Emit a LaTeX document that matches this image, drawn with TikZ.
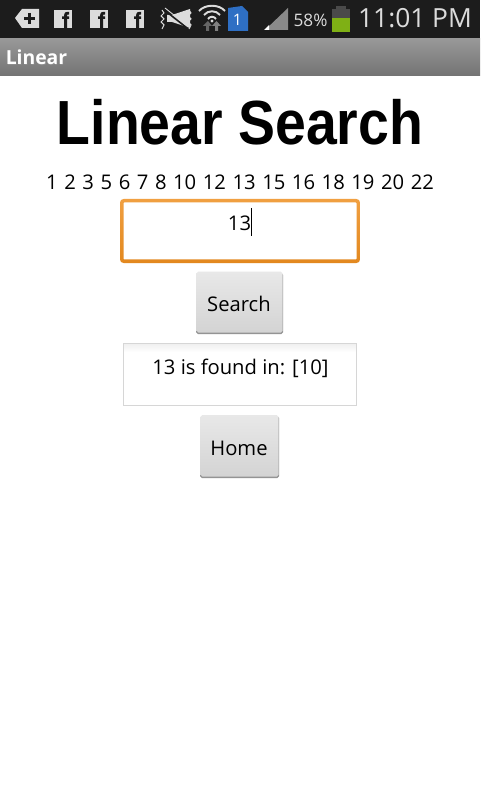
\documentclass[tikz,border=0pt]{standalone}
\usepackage{fontspec}
\setmainfont{Open Sans}
\newfontfamily\titlefont{Liberation Sans}
\usepackage{xcolor}
\usepackage{tikz}
\usetikzlibrary{positioning,calc,shadings}
\definecolor{barblack}{HTML}{1C1C1C}
\definecolor{iconwhite}{HTML}{DCDCDC}
\definecolor{simblue}{HTML}{2E6FC4}
\definecolor{battgreen}{HTML}{7FB015}
\definecolor{battgray}{HTML}{4A4A4A}
\definecolor{sigblue}{HTML}{8A8A8A}
\definecolor{focusorange}{HTML}{EE8F20}
\tikzset{
 btntext/.style={font=\fontsize{11.5}{14}\selectfont,text=black},
 numtext/.style={font=\fontsize{11.5}{14}\selectfont,text=black},
 fbox/.style={fill=iconwhite,draw=none},
}
\begin{document}
\begin{tikzpicture}[x=0.02cm,y=-0.02cm]
\useasboundingbox (0,0) rectangle (480,800);
\fill[white] (0,0) rectangle (480,800);
% status bar
\fill[barblack] (0,0) rectangle (480,38.500);
\shade[top color=black!40,bottom color=black!55] (0,38.500) rectangle (480,76);
% notification icons
\fill[iconwhite] (15,18) -- (22,9) -- (39,9) -- (39,28) -- (22,28) -- cycle;
\draw[barblack,line width=1.2pt] (24,18.5) -- (35,18.5) (29.5,13) -- (29.5,24);
\foreach \x in {54,90,126} {
 \fill[fbox] (\x,10) rectangle ++(18,18);
 \fill[barblack] (\x+10,28) -- (\x+10,19) -- (\x+8,19) -- (\x+8,16.5) -- (\x+10,16.5)
  .. controls (\x+10,12) and (\x+12,11.5) .. (\x+15,12) -- (\x+15,14.5)
  .. controls (\x+13,14) and (\x+13,15) .. (\x+13,16.5) -- (\x+15,16.5) -- (\x+15,19) -- (\x+13,19) -- (\x+13,28) -- cycle;
}
% muted volume
\fill[iconwhite] (167,15) -- (172,15) -- (190,9) -- (190,28) -- (172,22) -- (167,22) -- cycle;
\draw[iconwhite,line width=0.6pt] (162,10) -- (164,13) -- (161,16) -- (164,19) -- (161,22) -- (164,25) -- (162,29);
\draw[iconwhite,line width=0.6pt] (189,10) -- (191,13) -- (188,16) -- (191,19) -- (188,22) -- (191,25) -- (189,29);
\draw[barblack,line width=0.9pt] (163,9) -- (187,28);
\draw[iconwhite,line width=0.5pt] (165,8) -- (189,27);
% wifi
\draw[iconwhite,line width=1.1pt] (199,11) .. controls (205,4) and (219,4) .. (225,11);
\draw[iconwhite,line width=1.1pt] (204,15) .. controls (208,10) and (216,10) .. (220,15);
\draw[iconwhite,line width=1.1pt] (208,19) .. controls (210,16) and (214,16) .. (216,19);
\fill[iconwhite] (212,21) circle (1.7);
\fill[black!60] (206,31) -- (206,26) -- (203,26) -- (208,21) -- (212,26) -- (209,26) -- (209,31) -- cycle;
\fill[black!50] (215,31) -- (215,26) -- (212,26) -- (216.500,21) -- (221,26) -- (218,26) -- (218,31) -- cycle;
% sim card
\fill[simblue] (228,8) -- (242,6) -- (248,12) -- (248,31) -- (228,31) -- cycle;
\node[font=\fontsize{9}{10}\selectfont,text=white] (simnum) at (237.500,20) {1};
% signal
\fill[sigblue] (265,30) -- (288,8) -- (288,30) -- cycle;
\fill[white] (264,30) -- (269,25) -- (269,30) -- cycle;
\node[font=\fontsize{9.8}{12}\selectfont,text=iconwhite] (battpct) at (310.500,20) {58\%};
% battery
\fill[battgray] (336,6) rectangle (346,9);
\fill[battgray] (332,9) rectangle (350,18);
\fill[battgreen] (332,18) rectangle (350,32);
\node[font=\fontsize{15}{16}\selectfont,text=iconwhite] (clock) at (415,18.500) {11:01 PM};
% action bar
\node[font=\fontsize{11}{13}\selectfont\bfseries,text=black!45] (apptitleshadow) at (37,58.500) {Linear};
\node[font=\fontsize{11}{13}\selectfont\bfseries,text=white] (apptitle) at (36.500,57.500) {Linear};
% content
\node[font=\titlefont\fontsize{35.5}{40}\selectfont\bfseries,text=black] (heading) at (240,122.500) {\scalebox{0.888}[1]{Linear Search}};
\node[numtext] (numbers) at (240,182) {\spaceskip=3.75pt 1 2 3 5 6 7 8 10 12 13 15 16 18 19 20 22};
% input box
\shade[rounded corners=2pt,top color=focusorange!85!white,bottom color=focusorange!95!black] (120,199) rectangle (360,263);
\fill[rounded corners=0.5pt,white] (123.500,202.500) rectangle (356.500,259.500);
\node[numtext] (inputval) at (239.500,223.500) {13};
\draw[black,line width=0.4pt] (251.500,208) -- (251.500,236);
% search button
\fill[black!42,rounded corners=1pt] (196,273) rectangle (283,334);
\shade[rounded corners=1pt,top color=black!9,bottom color=black!17] (196.500,271.500) rectangle (282.500,332.500);
\node[btntext] (searchbtn) at (239,304) {Search};
% result box
\fill[white] (123.500,343.500) rectangle (356.500,405.500);
\shade[top color=black!6,bottom color=white] (124,344) rectangle (356,352);
\draw[black!16,line width=0.4pt] (123.500,343.500) rectangle (356.500,405.500);
\node[numtext] (resulttext) at (240.500,368.500) {13 is found in: [10]};
% home button
\fill[black!42,rounded corners=1pt] (200,416) rectangle (279,478);
\shade[rounded corners=1pt,top color=black!9,bottom color=black!17] (200.500,415) rectangle (278.500,476.500);
\node[btntext] (homebtn) at (239,448) {Home};
\end{tikzpicture}
\end{document}
